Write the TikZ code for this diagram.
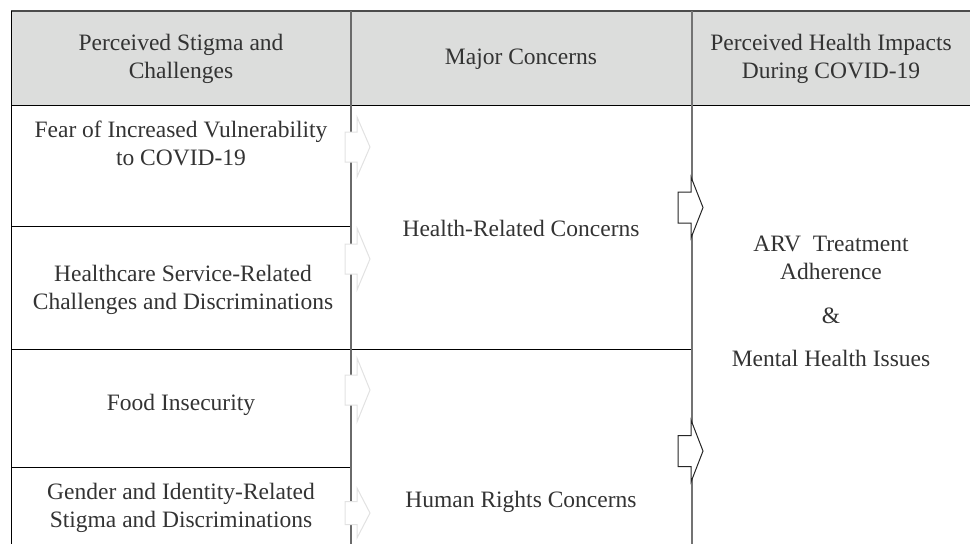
\documentclass[tikz,border=0pt]{standalone}
\usepackage{fontspec}
\setmainfont{Liberation Serif}
\definecolor{hdr}{HTML}{DCDDDC}
\definecolor{txtc}{HTML}{333333}
\definecolor{garr}{HTML}{E2E2E2}
\definecolor{div}{HTML}{6A6A6A}
\newcommand\blockarr[7]{%
  \filldraw[#1] (#2,{#5-#7}) -- (#3,{#5-#7}) -- (#3,{#5-#6}) -- (#4,#5)
    -- (#3,{#5+#6}) -- (#3,{#5+#7}) -- (#2,{#5+#7}) -- cycle;}
\begin{document}
\begin{tikzpicture}[x=1pt,y=-1pt,
  txt/.style={align=center,text=txtc,inner sep=0pt,font=\fontsize{23.5}{28}\selectfont},
  rowline/.style={draw=black,line width=1pt},
  divline/.style={draw=div,line width=1.6pt},
  greyarr/.style={draw=garr,fill=white,line width=1pt},
  darkarr/.style={draw=black!85,fill=white,line width=1pt,line join=miter}]
\useasboundingbox (0,0) rectangle (970,544);
% header
\fill[hdr] (11,11) rectangle (970,105);
\draw[draw=black!70,line width=1.6pt] (11,11) -- (970,11);
% lines
\draw[rowline] (11,105) -- (970,105);
\draw[rowline] (11,226) -- (351,226);
\draw[rowline] (11,349) -- (692,349);
\draw[rowline] (11,467) -- (351,467);
\draw[draw=black,line width=1.5pt] (11.5,11) -- (11.5,544);
\draw[divline] (351,11) -- (351,544);
\draw[draw=black!55,line width=1.4pt] (692,11) -- (692,544);
% arrows
\blockarr{greyarr}{345}{357}{370}{147}{30}{15}
\blockarr{greyarr}{345}{357}{370}{259}{31}{15}
\blockarr{greyarr}{345}{357}{370}{390}{32}{15}
\blockarr{greyarr}{345}{357}{370}{513}{25}{11.5}
\blockarr{darkarr}{678}{691}{703}{207.5}{30.5}{15.5}
\blockarr{darkarr}{678}{691}{703}{451}{31}{15.5}
% header texts
\node[txt] (h1) at (181,59) {Perceived Stigma and\\Challenges};
\node[txt] (h2) at (521,59) {Major Concerns};
\node[txt] (h3) at (831,59) {Perceived Health Impacts\\During COVID-19};
% column 1
\node[txt] (c1) at (181,143) {Fear of Increased Vulnerability\\to COVID-19};
\node[txt] (c2) at (183,290) {Healthcare Service-Related\\Challenges and Discriminations};
\node[txt] (c3) at (181,405) {Food Insecurity};
\node[txt] (c4) at (181,508) {Gender and Identity-Related\\Stigma and Discriminations};
% column 2
\node[txt] (m1) at (521,228) {Health-Related Concerns};
\node[txt] (m2) at (521,502) {Human Rights Concerns};
% column 3
\node[txt] (r1) at (831,258) {ARV~~Treatment\\Adherence};
\node[txt] (r2) at (831,316) {\&};
\node[txt] (r3) at (831,358) {Mental Health Issues};
\end{tikzpicture}
\end{document}
